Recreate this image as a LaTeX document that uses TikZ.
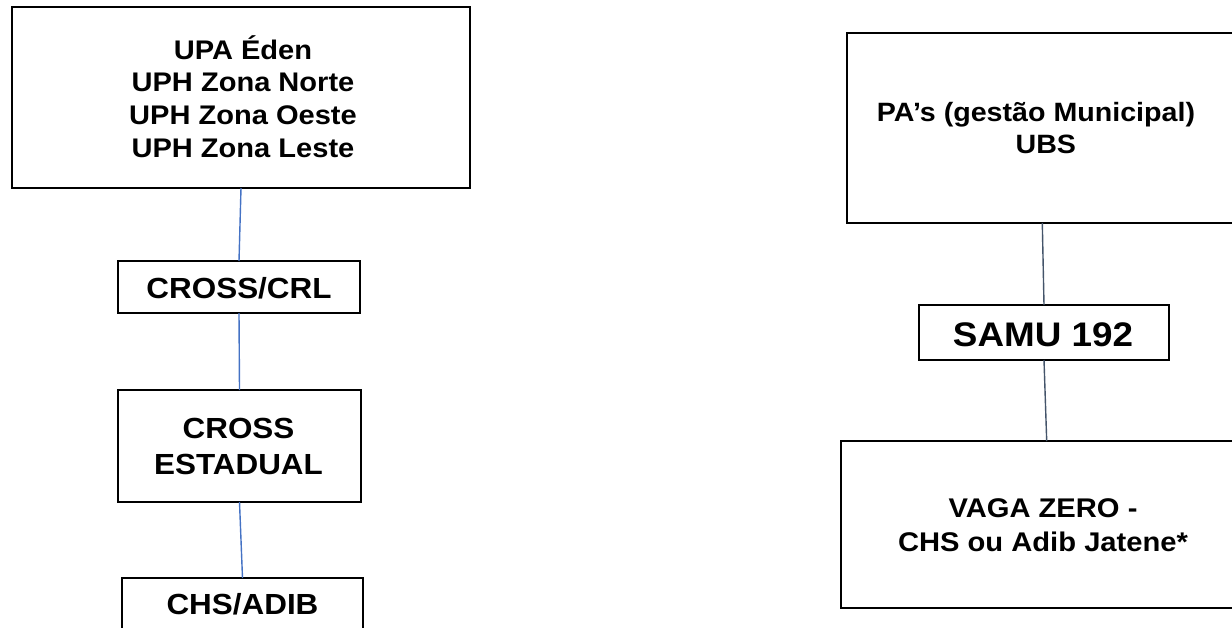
\documentclass[tikz,border=0pt]{standalone}
\usepackage{fontspec}
\setmainfont[FakeStretch=1.08]{Liberation Sans}
\definecolor{connblue}{RGB}{68,114,196}
\definecolor{connslate}{RGB}{68,84,106}
\begin{document}
\begin{tikzpicture}[x=1pt,y=-1pt,
  box/.style={draw=black,line width=1.7pt,inner sep=0pt,outer sep=0pt,rectangle},
  lbl/.style={align=center,inner sep=0pt,anchor=base},
  linkL/.style={draw=connblue,line width=1.4pt},
  linkR/.style={draw=connslate,line width=1.4pt}]
\useasboundingbox (0,0) rectangle (1232,627);
\clip (0,0) rectangle (1232,627);
% boxes
\node[box,minimum width=458pt,minimum height=181pt] (A) at (241,97.5) {};
\node[box,minimum width=242pt,minimum height=52pt] (B) at (239,287) {};
\node[box,minimum width=243pt,minimum height=112pt] (C) at (239.5,446) {};
\node[box,minimum width=241pt,minimum height=102pt] (D) at (242.5,629) {};
\node[box,minimum width=390.6pt,minimum height=190pt] (E) at (1042.3,128) {};
\node[box,minimum width=250pt,minimum height=55pt] (F) at (1044,332.5) {};
\node[box,minimum width=411.4pt,minimum height=167pt] (G) at (1046.7,524.5) {};
% labels (anchor base = baseline of the last line)
\node[lbl,font=\bfseries\fontsize{26.9}{32.7}\selectfont] (tA) at (243,157.3)
  {UPA Éden\\UPH Zona Norte\\UPH Zona Oeste\\UPH Zona Leste};
\node[lbl,font=\bfseries\fontsize{29.1}{36}\selectfont] (tB) at (239,298.3) {CROSS/CRL};
\node[lbl,font=\bfseries\fontsize{29.1}{36}\selectfont] (tC) at (238.5,474.5) {CROSS\\ESTADUAL};
\node[lbl,font=\bfseries\fontsize{29.1}{36}\selectfont] (tD) at (242.5,614) {CHS/ADIB};
\node[lbl,font=\bfseries\fontsize{26.5}{32}\selectfont] (tE) at (1036,153.7)
  {PA’s (gestão Municipal)\\\hspace*{19.6pt}UBS};
\node[lbl,font=\bfseries\fontsize{34.1}{36}\selectfont] (tF) at (1043,346.7) {SAMU 192};
\node[lbl,font=\bfseries\fontsize{27}{34}\selectfont] (tG) at (1043,551.7)
  {VAGA ZERO -\\CHS ou Adib Jatene*};
% connectors
\draw[linkL] (A.south) -- (B.north);
\draw[linkL] (B.south) -- (C.north);
\draw[linkL] (C.south) -- (D.north);
\draw[linkR] (E.south) -- (F.north);
\draw[linkR] (F.south) -- (G.north);
\end{tikzpicture}
\end{document}
